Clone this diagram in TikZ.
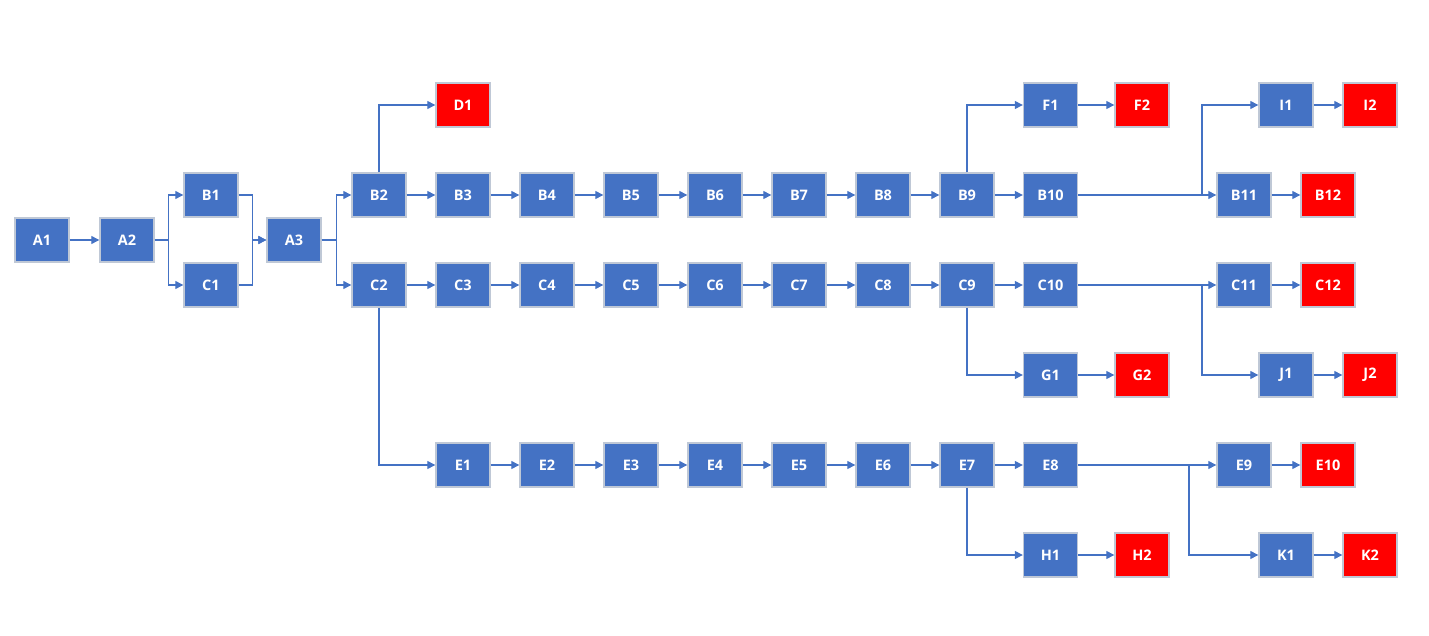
\documentclass[tikz,border=0pt]{standalone}
\usepackage{fontspec}
\setmainfont{Open Sans}
\usetikzlibrary{arrows.meta}
\definecolor{boxblue}{HTML}{4472C4}
\definecolor{boxred}{HTML}{FF0000}
\definecolor{boxedge}{HTML}{BFC8D6}
\tikzset{
  bx/.style={draw=boxedge, line width=1.4pt, fill=boxblue, minimum width=54pt, minimum height=44pt, inner sep=0pt, text=white, font=\fontsize{14.5}{16}\selectfont\bfseries},
  rbx/.style={bx, fill=boxred},
  arr/.style={draw=boxblue, line width=1.3pt, -{Triangle[length=8pt,width=8pt]}},
}
\begin{document}
\begin{tikzpicture}[x=1pt,y=-1pt]
\useasboundingbox (0,0) rectangle (1429,636);
% nodes
\node[bx] (A1) at (42,240) {A1};
\node[bx] (A2) at (127,240) {A2};
\node[bx] (B1) at (211,195) {B1};
\node[bx] (C1) at (211,285) {C1};
\node[bx] (A3) at (294,240) {A3};
\node[bx] (B2) at (379,195) {B2};
\node[rbx] (D1) at (463,105) {D1};
\node[bx] (B3) at (463,195) {B3};
\node[bx] (B4) at (547,195) {B4};
\node[bx] (B5) at (631,195) {B5};
\node[bx] (B6) at (715,195) {B6};
\node[bx] (B7) at (799,195) {B7};
\node[bx] (B8) at (883,195) {B8};
\node[bx] (B9) at (967,195) {B9};
\node[bx] (B10) at (1050.5,195) {B10};
\node[bx] (F1) at (1050.5,105) {F1};
\node[rbx] (F2) at (1142,105) {F2};
\node[bx] (I1) at (1286,105) {I1};
\node[rbx] (I2) at (1370,105) {I2};
\node[bx] (B11) at (1244,195) {B11};
\node[rbx] (B12) at (1328,195) {B12};
\node[bx] (C2) at (379,285) {C2};
\node[bx] (C3) at (463,285) {C3};
\node[bx] (C4) at (547,285) {C4};
\node[bx] (C5) at (631,285) {C5};
\node[bx] (C6) at (715,285) {C6};
\node[bx] (C7) at (799,285) {C7};
\node[bx] (C8) at (883,285) {C8};
\node[bx] (C9) at (967,285) {C9};
\node[bx] (C10) at (1050.5,285) {C10};
\node[bx] (C11) at (1244,285) {C11};
\node[rbx] (C12) at (1328,285) {C12};
\node[bx] (G1) at (1050.5,375) {G1};
\node[rbx] (G2) at (1142,375) {G2};
\node[bx] (J1) at (1286,375) {J1};
\node[rbx] (J2) at (1370,375) {J2};
\node[bx] (E1) at (463,465) {E1};
\node[bx] (E2) at (547,465) {E2};
\node[bx] (E3) at (631,465) {E3};
\node[bx] (E4) at (715,465) {E4};
\node[bx] (E5) at (799,465) {E5};
\node[bx] (E6) at (883,465) {E6};
\node[bx] (E7) at (967,465) {E7};
\node[bx] (E8) at (1050.5,465) {E8};
\node[bx] (E9) at (1244,465) {E9};
\node[rbx] (E10) at (1328,465) {E10};
\node[bx] (H1) at (1050.5,555) {H1};
\node[rbx] (H2) at (1142,555) {H2};
\node[bx] (K1) at (1286,555) {K1};
\node[rbx] (K2) at (1370,555) {K2};
% branch coordinates
\coordinate (bI) at (1202,195);
\coordinate (bJ) at (1202,285);
\coordinate (bK) at (1189,465);
% straight links
\foreach \a/\b in {A1/A2,B2/B3,B3/B4,B4/B5,B5/B6,B6/B7,B7/B8,B8/B9,B9/B10,B10/B11,B11/B12,
  F1/F2,I1/I2,C2/C3,C3/C4,C4/C5,C5/C6,C6/C7,C7/C8,C8/C9,C9/C10,C10/C11,C11/C12,G1/G2,J1/J2,
  E1/E2,E2/E3,E3/E4,E4/E5,E5/E6,E6/E7,E7/E8,E8/E9,E9/E10,H1/H2,K1/K2}
  \draw[arr] (\a) -- (\b);
% elbow links
\draw[arr] (A2.east) -- ++(14,0) |- (B1.west);
\draw[arr] (A2.east) -- ++(14,0) |- (C1.west);
\draw[arr] (B1.east) -- ++(14,0) |- (A3.west);
\draw[arr] (C1.east) -- ++(14,0) |- (A3.west);
\draw[arr] (A3.east) -- ++(15,0) |- (B2.west);
\draw[arr] (A3.east) -- ++(15,0) |- (C2.west);
\draw[arr] (B2.north) |- (D1.west);
\draw[arr] (C2.south) |- (E1.west);
\draw[arr] (B9.north) |- (F1.west);
\draw[arr] (C9.south) |- (G1.west);
\draw[arr] (E7.south) |- (H1.west);
\draw[arr] (bI) |- (I1.west);
\draw[arr] (bJ) |- (J1.west);
\draw[arr] (bK) |- (K1.west);
\end{tikzpicture}
\end{document}
